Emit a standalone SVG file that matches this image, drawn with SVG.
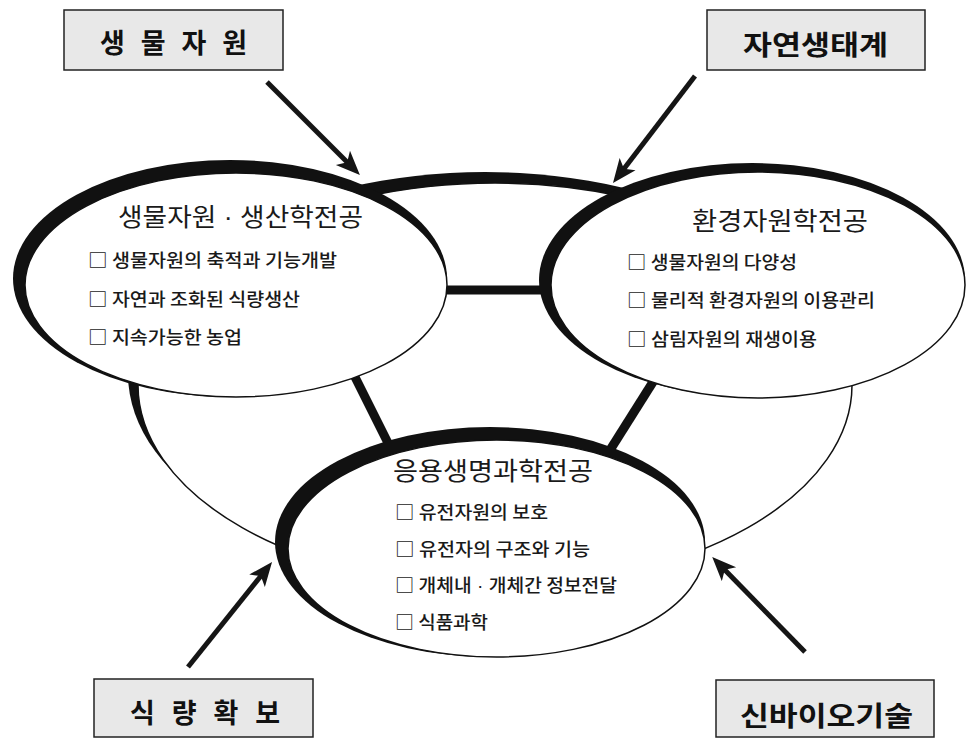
<svg xmlns="http://www.w3.org/2000/svg" width="967" height="739" viewBox="0 0 967 739">
<defs>
<style>
.ink{fill:#111;stroke:none}
.face{fill:#fff;stroke:#111;stroke-width:1.5}
.bar{stroke:#111;stroke-width:9;stroke-linecap:butt;fill:none}
.arr{stroke:#151515;stroke-width:5;fill:none;marker-end:url(#head)}
.box{fill:#e8e8e8;stroke:#222;stroke-width:1.5}
.lbl{font-family:"Noto Sans CJK KR","Noto Sans",sans-serif;font-weight:bold;font-size:27px;fill:#111}
.ttl{font-family:"Noto Sans CJK KR","Noto Sans",sans-serif;font-size:25px;fill:#1a1a1a}
.itm{font-family:"Noto Sans CJK KR","Noto Sans",sans-serif;font-size:18px;font-weight:500;fill:#1a1a1a}
.dot{font-family:"Liberation Sans",sans-serif}
</style>
<marker id="head" markerUnits="userSpaceOnUse" markerWidth="26" markerHeight="22" refX="10" refY="11" orient="auto" viewBox="0 0 26 22">
<path d="M0,1 L24,11 L0,21 L6,11 z" fill="#151515"/>
</marker>
</defs>
<rect width="967" height="739" fill="#fff"/>

<g id="frame">
<ellipse class="ink" cx="485" cy="374" rx="357" ry="202"/>
<ellipse class="face" cx="495" cy="385" rx="357" ry="202"/>
</g>

<g id="connectors">
<line class="bar" x1="438" y1="290" x2="560" y2="290"/>
<line class="bar" x1="351" y1="369" x2="389" y2="445"/>
<line class="bar" x1="658" y1="374" x2="605" y2="458"/>
<line class="arr" x1="267" y1="82" x2="350" y2="165"/>
<line class="arr" x1="695" y1="76" x2="621.5" y2="172"/>
<line class="arr" x1="188" y1="667" x2="263.3" y2="573"/>
<line class="arr" x1="805" y1="652" x2="722" y2="567"/>
</g>

<g id="node-left">
<ellipse class="ink" cx="230" cy="278.5" rx="217" ry="118.5"/>
<ellipse class="face" cx="236" cy="285" rx="211" ry="112"/>
<text class="ttl" x="118" y="226" textLength="245" lengthAdjust="spacingAndGlyphs">생물자원<tspan class="dot"> · </tspan>생산학전공</text>
<text class="itm" x="88" y="267" textLength="249" lengthAdjust="spacingAndGlyphs">□ 생물자원의 축적과 기능개발</text>
<text class="itm" x="88" y="306" textLength="212" lengthAdjust="spacingAndGlyphs">□ 자연과 조화된 식량생산</text>
<text class="itm" x="88" y="344" textLength="154" lengthAdjust="spacingAndGlyphs">□ 지속가능한 농업</text>
</g>

<g id="node-right">
<ellipse class="ink" cx="752" cy="280" rx="213" ry="117"/>
<ellipse class="face" cx="758" cy="285" rx="207" ry="113"/>
<text class="ttl" x="692" y="230" textLength="176" lengthAdjust="spacingAndGlyphs">환경자원학전공</text>
<text class="itm" x="627" y="269" textLength="170" lengthAdjust="spacingAndGlyphs">□ 생물자원의 다양성</text>
<text class="itm" x="627" y="307" textLength="248" lengthAdjust="spacingAndGlyphs">□ 물리적 환경자원의 이용관리</text>
<text class="itm" x="627" y="346" textLength="190" lengthAdjust="spacingAndGlyphs">□ 삼림자원의 재생이용</text>
</g>

<g id="node-bottom">
<ellipse class="ink" cx="490" cy="542" rx="215" ry="115"/>
<ellipse class="face" cx="496.5" cy="548.5" rx="208.5" ry="108.5"/>
<text class="ttl" x="393" y="480" textLength="200" lengthAdjust="spacingAndGlyphs">응용생명과학전공</text>
<text class="itm" x="395" y="519" textLength="153" lengthAdjust="spacingAndGlyphs">□ 유전자원의 보호</text>
<text class="itm" x="395" y="556" textLength="195" lengthAdjust="spacingAndGlyphs">□ 유전자의 구조와 기능</text>
<text class="itm" x="395" y="592" textLength="222" lengthAdjust="spacingAndGlyphs">□ 개체내<tspan class="dot"> · </tspan>개체간 정보전달</text>
<text class="itm" x="395" y="629" textLength="93" lengthAdjust="spacingAndGlyphs">□ 식품과학</text>
</g>

<g id="label-bio">
<rect class="box" x="64" y="10" width="219" height="60"/>
<text class="lbl" x="100" y="53" textLength="147" lengthAdjust="spacing">생 물 자 원</text>
</g>
<g id="label-eco">
<rect class="box" x="707" y="10" width="218" height="60"/>
<text class="lbl" x="743" y="55" textLength="145" lengthAdjust="spacingAndGlyphs">자연생태계</text>
</g>
<g id="label-food">
<rect class="box" x="94" y="679" width="219" height="58"/>
<text class="lbl" x="130" y="723" textLength="150" lengthAdjust="spacing">식 량 확 보</text>
</g>
<g id="label-biotech">
<rect class="box" x="716" y="680" width="218" height="57"/>
<text class="lbl" x="740" y="726" textLength="173" lengthAdjust="spacingAndGlyphs">신바이오기술</text>
</g>
</svg>
